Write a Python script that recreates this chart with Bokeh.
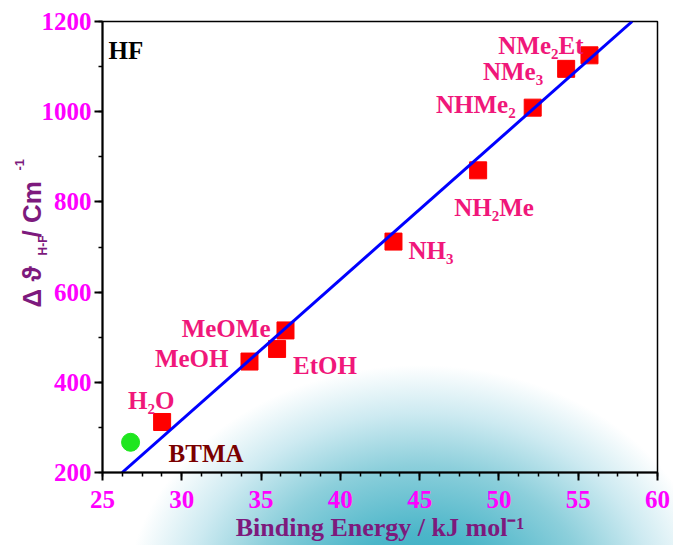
import math
from bokeh.plotting import figure
from bokeh.models import Range1d, Label, ColumnDataSource, SingleIntervalTicker
from bokeh.core.properties import value
from bokeh.embed import file_html
from bokeh.resources import INLINE

# ---- data ----
compounds = ["H₂O", "MeOH", "EtOH", "MeOMe", "NH₃", "NH₂Me", "NHMe₂", "NMe₃", "NMe₂Et"]
binding_energy = [28.76, 34.27, 36.01, 36.54, 43.35, 48.69, 52.13, 54.24, 55.71]
delta_nu = [312, 446, 474, 515, 712, 870, 1009, 1095, 1125]

btma_name = ["BTMA"]
btma_energy = [26.77]
btma_delta_nu = [267]

fit_energy = [26.24, 58.4]
fit_delta_nu = [200, 1200]

x_min, x_max = 25, 60
y_min, y_max = 200, 1200

# ---- label layout (pixel offsets, not data) ----
label_align = ["left", "right", "left", "right", "left", "left", "right", "right", "right"]
label_dx = [-34, -21, 16, -15, 15, -24, -17, -23, -6]
label_dy = [-21, -3, 17, -2, 9, 37, -3, 3, -10]

SERIF = "Liberation Serif"
SANS = "Liberation Sans"
PINK = "#f0177a"
PURPLE = "#7d1a7d"
MAGENTA = "#ff00ff"
NBSP = "\u00a0"

p = figure(width=673, height=545, output_backend="svg", toolbar_location=None,
           x_range=Range1d(x_min, x_max), y_range=Range1d(y_min, y_max),
           min_border_left=102, min_border_right=16, min_border_top=21, min_border_bottom=73)

p.background_fill_alpha = 0
p.border_fill_alpha = 0
p.styles = {
    "background-color": "#ffffff",
    "background-image": "radial-gradient(ellipse 295px 240px at 420px 605px, #2fa9c0 0%, #4cb6c9 30%, #8ccfdb 58%, #cdeaf1 80%, rgba(255,255,255,0) 100%)",
}

p.outline_line_color = "black"
p.outline_line_width = 1.5
p.xgrid.visible = False
p.ygrid.visible = False

p.xaxis.ticker = SingleIntervalTicker(interval=5, num_minor_ticks=4)
p.yaxis.ticker = SingleIntervalTicker(interval=200, num_minor_ticks=2)
for ax in (p.xaxis, p.yaxis):
    ax.axis_line_width = 2
    ax.axis_line_color = "black"
    ax.major_tick_line_width = 2
    ax.minor_tick_line_width = 1.5
    ax.major_tick_out = 8
    ax.major_tick_in = 0
    ax.minor_tick_out = 4
    ax.minor_tick_in = 0
    ax.major_label_text_font = SERIF
    ax.major_label_text_font_style = "bold"
    ax.major_label_text_font_size = "25px"
    ax.major_label_text_color = MAGENTA
p.xaxis.major_label_standoff = 10
p.yaxis.major_label_standoff = 3

p.xaxis.axis_label = "Binding Energy / kJ mol⁻¹"
p.xaxis.axis_label_standoff = 2
p.xaxis.axis_label_text_font = SERIF
p.xaxis.axis_label_text_font_style = "bold"
p.xaxis.axis_label_text_font_size = "26px"
p.xaxis.axis_label_text_color = PURPLE

# squares, then fit line on top
src = ColumnDataSource(dict(x=binding_energy, y=delta_nu))
p.scatter("x", "y", source=src, marker="square", size=17, color="#ff0000")
p.scatter(btma_energy, btma_delta_nu, marker="circle", size=18, color="#1fe61f")
p.line(fit_energy, fit_delta_nu, color="#0000ff", line_width=3)

for al in ("left", "right"):
    idx = [i for i, a in enumerate(label_align) if a == al]
    s = ColumnDataSource(dict(x=[binding_energy[i] for i in idx],
                              y=[delta_nu[i] for i in idx],
                              t=[compounds[i] for i in idx],
                              dx=[label_dx[i] for i in idx],
                              dy=[label_dy[i] for i in idx]))
    p.text("x", "y", text="t", source=s, x_offset="dx", y_offset="dy",
           text_align=al, text_baseline="alphabetic",
           text_font=value(SERIF), text_font_style="bold",
           text_font_size="25px", text_color=PINK)

p.text(btma_energy, btma_delta_nu, text=btma_name, x_offset=38, y_offset=11,
       text_align="left", text_baseline="alphabetic",
       text_font=value(SERIF), text_font_style="bold",
       text_font_size="25px", text_color="#7a0000")

# panel title
p.add_layout(Label(x=6, y=422, x_units="screen", y_units="screen", text="HF",
                   text_font=SERIF, text_font_style="bold", text_font_size="25px",
                   text_color="black", text_baseline="alphabetic"))

# y axis title pieces (rotated), placed in side panels so they are not clipped
def ylab(x, y, t, size, side):
    p.add_layout(Label(x=x, y=y, x_units="screen", y_units="screen", text=t,
                       angle=math.pi / 2, text_align="left", text_baseline="alphabetic",
                       text_font=SANS, text_font_style="bold", text_font_size=size,
                       text_color=PURPLE), side)

ylab(23, 165, "Δ ϑ " + NBSP * 3 + "/ Cm", "26px", "left")
ylab(-60, -234, "H-F", "12px", "above")
ylab(-638, 302, "-1", "13px", "right")

open("out.html", "w").write(file_html(p, INLINE))
